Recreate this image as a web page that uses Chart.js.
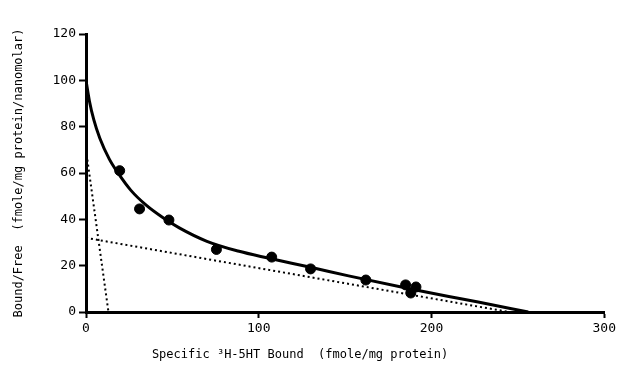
<!DOCTYPE html>
<html>
<head>
<meta charset="utf-8">
<script src="https://cdn.jsdelivr.net/npm/chart.js@4"></script>
<style>
  html, body { margin: 0; padding: 0; background: #fff; }
  #wrap { width: 619px; height: 366px; position: relative; }
</style>
</head>
<body>
<div id="wrap"><canvas id="scatchard"></canvas></div>
<script>
// Scatchard plot data
const boundX = [19.5, 31, 48, 75.5, 107.5, 130, 162, 185, 191, 188];
const ratioY = [61, 44.5, 39.7, 27, 23.7, 18.6, 13.8, 11.7, 10.8, 8.2];

// fitted two-site curve
const curveX = [0, 2, 4.5, 8, 13.5, 19, 26, 35, 44, 54, 70, 88, 106, 130, 152, 188, 210, 227, 256];
const curveY = [100, 91, 83, 75, 66, 59.5, 52.5, 46, 41, 36.3, 30.5, 26.3, 23.2, 19.3, 15.6, 9.9, 6.7, 4.3, 0];

// component lines (high / low affinity sites)
const highSiteX = [0, 13];
const highSiteY = [70, 0];
const lowSiteX = [0, 245];
const lowSiteY = [32, 0];

const xTicks = [0, 100, 200, 300];
const yTicks = [0, 20, 40, 60, 80, 100, 120];

const xTitle = 'Specific \u00b3H-5HT Bound  (fmole/mg protein)';
const yTitle = 'Bound/Free  (fmole/mg protein/nanomolar)';

const toPts = (xs, ys) => xs.map((x, i) => ({ x: x, y: ys[i] }));

const monoFont = { family: '"DejaVu Sans Mono", monospace', size: 12 };

// x title sits left of the plot centre in the original, so draw it by hand
const xTitlePlugin = {
  id: 'xTitle',
  afterDraw(chart) {
    const c = chart.ctx;
    c.save();
    c.font = '12px "DejaVu Sans Mono", monospace';
    c.fillStyle = '#000';
    c.textAlign = 'center';
    c.textBaseline = 'middle';
    c.fillText(xTitle, 300, 355);
    c.restore();
  },
};

const ctx = document.getElementById('scatchard').getContext('2d');
const chart = new Chart(ctx, {
  type: 'scatter',
  data: {
    datasets: [
      {
        label: 'points',
        data: toPts(boundX, ratioY),
        backgroundColor: '#000',
        borderColor: '#000',
        pointRadius: 5,
        showLine: false,
      },
      {
        label: 'fit',
        data: toPts(curveX, curveY),
        showLine: true,
        borderColor: '#000',
        borderWidth: 3,
        pointRadius: 0,
        cubicInterpolationMode: 'monotone',
      },
      {
        label: 'high',
        data: toPts(highSiteX, highSiteY),
        showLine: true,
        borderColor: '#000',
        borderWidth: 2,
        borderDash: [2, 3],
        pointRadius: 0,
      },
      {
        label: 'low',
        data: toPts(lowSiteX, lowSiteY),
        showLine: true,
        borderColor: '#000',
        borderWidth: 2,
        borderDash: [2, 3],
        pointRadius: 0,
      },
    ],
  },
  options: {
    responsive: true,
    maintainAspectRatio: false,
    animation: false,
    layout: { padding: { top: 34, right: 12, left: 0, bottom: 0 } },
    plugins: {
      legend: { display: false },
      tooltip: { enabled: false },
    },
    scales: {
      x: {
        type: 'linear',
        min: 0,
        max: 300,
        afterBuildTicks: (scale) => { scale.ticks = xTicks.map((v) => ({ value: v })); },
        afterFit: (scale) => { scale.height = 54; },
        border: { display: true, color: '#000', width: 3 },
        grid: { drawOnChartArea: false, drawTicks: true, tickLength: 6, tickWidth: 2, tickColor: '#000' },
        ticks: { color: '#000', font: { family: monoFont.family, size: 13 }, padding: 3, maxRotation: 0 },
        title: { display: false },
      },
      y: {
        type: 'linear',
        min: 0,
        max: 120,
        afterBuildTicks: (scale) => { scale.ticks = yTicks.map((v) => ({ value: v })); },
        afterFit: (scale) => { scale.width = 86; },
        border: { display: true, color: '#000', width: 3 },
        grid: { drawOnChartArea: false, drawTicks: true, tickLength: 7, tickWidth: 2, tickColor: '#000' },
        ticks: { color: '#000', font: { family: monoFont.family, size: 13 }, padding: 3 },
        title: { display: true, text: yTitle, color: '#000', font: monoFont, padding: { top: 12, bottom: 0 } },
      },
    },
  },
  plugins: [xTitlePlugin],
});
</script>
</body>
</html>
